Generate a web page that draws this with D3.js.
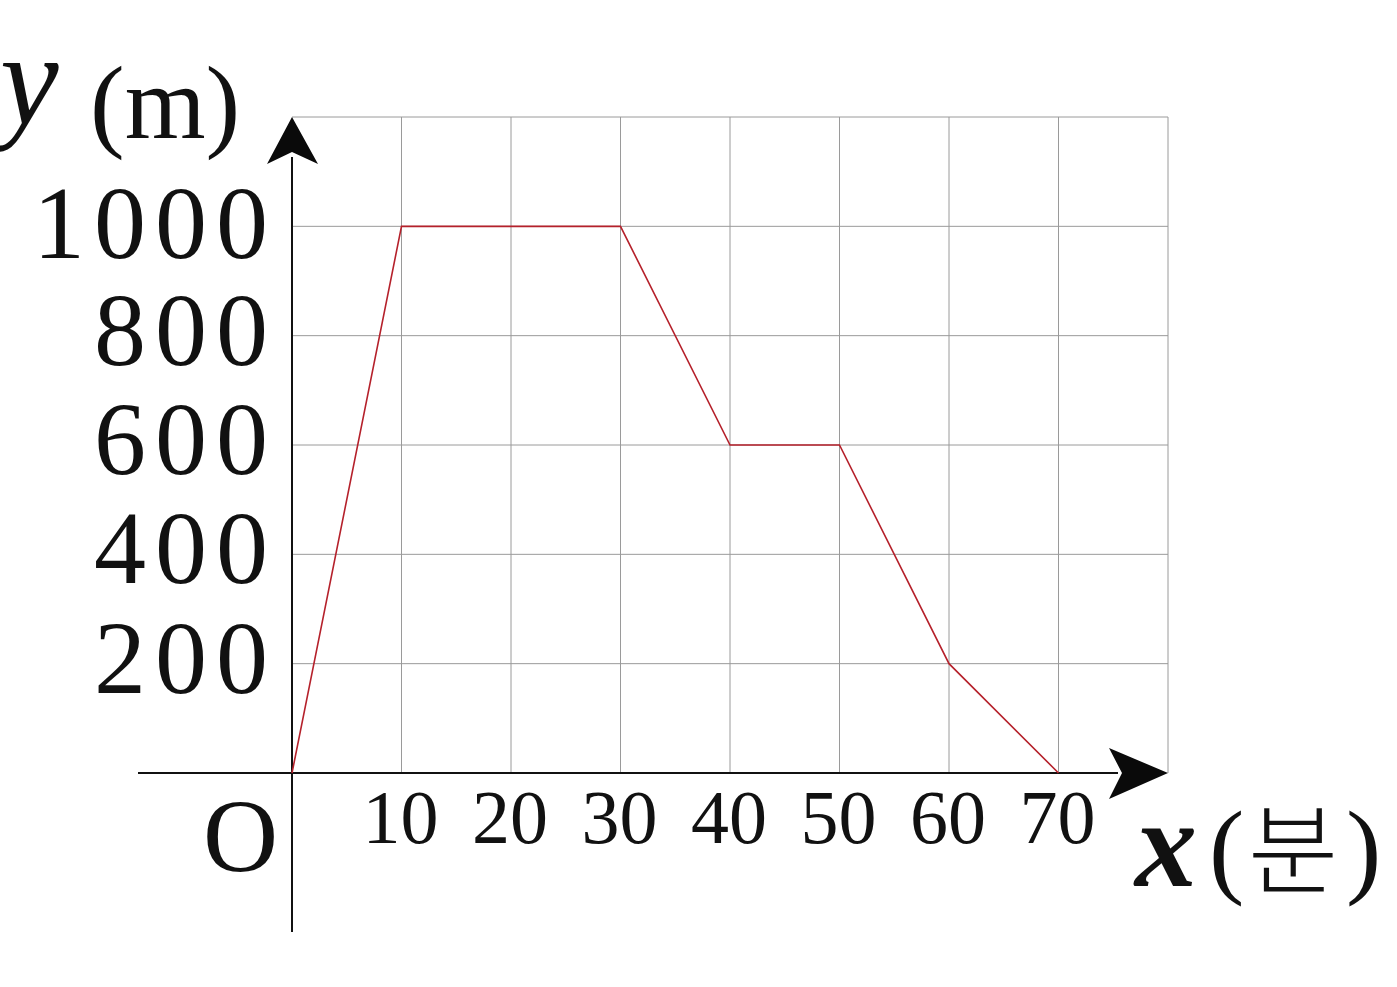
<!DOCTYPE html>
<html><head><meta charset="utf-8">
<script src="https://cdn.jsdelivr.net/npm/d3@7"></script>
<style>html,body{margin:0;padding:0;background:#fff;}svg{display:block;}</style>
</head><body>
<svg id="chart" width="1397" height="987"></svg>
<script>
const xValues = [0, 10, 30, 40, 50, 60, 70];
const yValues = [0, 1000, 1000, 600, 600, 200, 0];
const xTicks = [10, 20, 30, 40, 50, 60, 70];
const yTicks = [200, 400, 600, 800, 1000];
const xGrid = [10, 20, 30, 40, 50, 60, 70, 80];
const yGrid = [200, 400, 600, 800, 1000, 1200];

const svg = d3.select("#chart");
const x = d3.scaleLinear().domain([0, 80]).range([292, 1168]);
const y = d3.scaleLinear().domain([0, 1200]).range([773, 117]);
const serif = "'Liberation Serif', 'DejaVu Serif', serif";

// grid
svg.append("g").selectAll("line").data(xGrid).join("line")
  .attr("x1", d => x(d)).attr("x2", d => x(d))
  .attr("y1", y(0)).attr("y2", y(1200))
  .attr("stroke", "#9a9a9a").attr("stroke-width", 1);
svg.append("g").selectAll("line").data(yGrid).join("line")
  .attr("x1", x(0)).attr("x2", x(80))
  .attr("y1", d => y(d)).attr("y2", d => y(d))
  .attr("stroke", "#9a9a9a").attr("stroke-width", 1);

// axes
svg.append("line").attr("x1", 138).attr("x2", x(80) - 50).attr("y1", y(0)).attr("y2", y(0))
  .attr("stroke", "#111").attr("stroke-width", 2);
svg.append("line").attr("x1", x(0)).attr("x2", x(0)).attr("y1", 932).attr("y2", y(1200) + 40)
  .attr("stroke", "#111").attr("stroke-width", 2);
// arrowheads
const tx = x(80), ty = y(0);
svg.append("path").attr("fill", "#0a0a0a")
  .attr("d", `M${tx},${ty} L${tx - 59},${ty - 25} L${tx - 46},${ty} L${tx - 59},${ty + 26} Z`);
const ax = x(0), ay = y(1200);
svg.append("path").attr("fill", "#0a0a0a")
  .attr("d", `M${ax},${ay} L${ax - 25},${ay + 47} L${ax},${ay + 35} L${ax + 26},${ay + 47} Z`);

// data line
const pts = xValues.map((v, i) => [v, yValues[i]]);
svg.append("path").datum(pts)
  .attr("fill", "none").attr("stroke", "#b5212b").attr("stroke-width", 1.6)
  .attr("stroke-linejoin", "miter")
  .attr("d", d3.line().x(d => x(d[0])).y(d => y(d[1])));

// y tick labels
svg.append("g").selectAll("text").data(yTicks).join("text")
  .attr("x", 277).attr("y", d => y(d) + (d === 1000 ? 32 : 29))
  .attr("text-anchor", "end")
  .attr("font-family", serif).attr("font-size", 104).attr("letter-spacing", 9)
  .attr("fill", "#111").text(d => d);

// x tick labels
svg.append("g").selectAll("text").data(xTicks).join("text")
  .attr("x", d => x(d) - 1).attr("y", 843)
  .attr("text-anchor", "middle")
  .attr("font-family", serif).attr("font-size", 76)
  .attr("fill", "#111").text(d => d);

// origin
svg.append("text").attr("x", 278).attr("y", 871).attr("text-anchor", "end")
  .attr("font-family", serif).attr("font-size", 104).attr("fill", "#111").text("O");

// y label
svg.append("text").attr("x", 0).attr("y", 124)
  .attr("font-family", serif).attr("font-style", "italic").attr("font-size", 132)
  .attr("fill", "#111").text("y");
svg.append("text").attr("x", 90).attr("y", 138)
  .attr("font-family", serif).attr("font-size", 104)
  .attr("fill", "#111").text("(m)");

// x label
svg.append("text").attr("x", 1135).attr("y", 886)
  .attr("font-family", serif).attr("font-style", "italic").attr("font-weight", "bold").attr("font-size", 124)
  .attr("fill", "#111").text("x");
svg.append("text").attr("x", 1209).attr("y", 884)
  .attr("font-family", serif).attr("font-size", 106)
  .attr("fill", "#111").text("(");
svg.append("text").attr("x", 1248).attr("y", 886)
  .attr("font-family", "'Noto Sans CJK KR', sans-serif").attr("font-size", 98).attr("font-weight", 300)
  .attr("fill", "#111").text("분");
svg.append("text").attr("x", 1346).attr("y", 884)
  .attr("font-family", serif).attr("font-size", 106)
  .attr("fill", "#111").text(")");
</script>
</body></html>
